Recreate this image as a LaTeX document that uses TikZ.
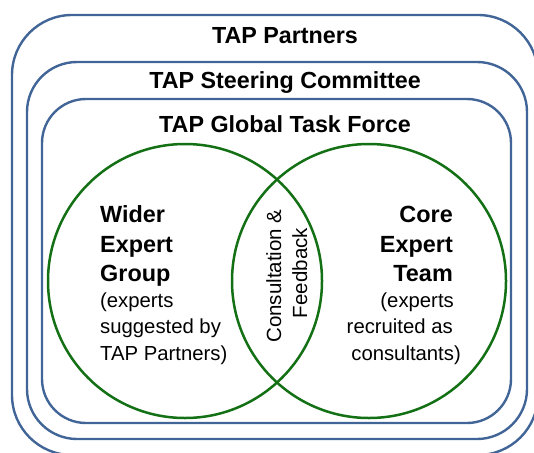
\documentclass[tikz,border=0pt]{standalone}
\usepackage{fontspec}
\setmainfont{Liberation Sans}
\definecolor{frameblue}{RGB}{66,101,151}
\definecolor{venngreen}{RGB}{20,112,20}
\begin{document}
\begin{tikzpicture}[x=1pt,y=-1pt,
  frame/.style={draw=frameblue, line width=2.4pt},
  venn/.style={circle, draw=venngreen, line width=2.5pt, minimum size=274pt, inner sep=0pt},
  title/.style={font=\fontsize{23.3}{28}\selectfont\bfseries, inner sep=0pt, anchor=base},
  boldL/.style={font=\fontsize{23.4}{28}\selectfont\bfseries, inner sep=0pt},
  regL/.style={font=\fontsize{20.3}{24}\selectfont, inner sep=0pt},
  rot/.style={font=\fontsize{20.5}{24}\selectfont, inner sep=0pt, rotate=90, anchor=base}]
\path[use as bounding box] (0,0) rectangle (534,452);
\clip (0,0) rectangle (534,452);
% nested frames
\draw[frame, rounded corners=60pt] (12,15) rectangle (538,455);
\draw[frame, rounded corners=50pt] (27,62) rectangle (527,439);
\draw[frame, rounded corners=44pt] (42,99) rectangle (511,423);
% titles
\node[title] (tp) at (285,43) {TAP Partners};
\node[title] (tsc) at (285,88) {TAP Steering Committee};
\node[title] (tgt) at (285,132) {TAP Global Task Force};
% circles
\node[venn] (lc) at (185,281) {};
\node[venn] (rc) at (369,281) {};
% left text
\node[boldL, anchor=base west] (l1) at (100,222) {Wider};
\node[boldL, anchor=base west] (l2) at (100,252) {Expert};
\node[boldL, anchor=base west] (l3) at (100,281) {Group};
\node[regL, anchor=base west] (l4) at (100,307) {(experts};
\node[regL, anchor=base west] (l5) at (100,333) {suggested by};
\node[regL, anchor=base west] (l6) at (100,360) {TAP Partners)};
% right text
\node[boldL, anchor=base east] (r1) at (453,222) {Core};
\node[boldL, anchor=base east] (r2) at (453,252) {Expert};
\node[boldL, anchor=base east] (r3) at (453,281) {Team};
\node[regL, anchor=base east] (r4) at (454,307) {(experts};
\node[regL, anchor=base east] (r5) at (453,333) {recruited as};
\node[regL, anchor=base east] (r6) at (461,360) {consultants)};
% lens text
\node[rot] (c1) at (281,276) {Consultation \&};
\node[rot] (c2) at (307,273) {Feedback};
\end{tikzpicture}
\end{document}
